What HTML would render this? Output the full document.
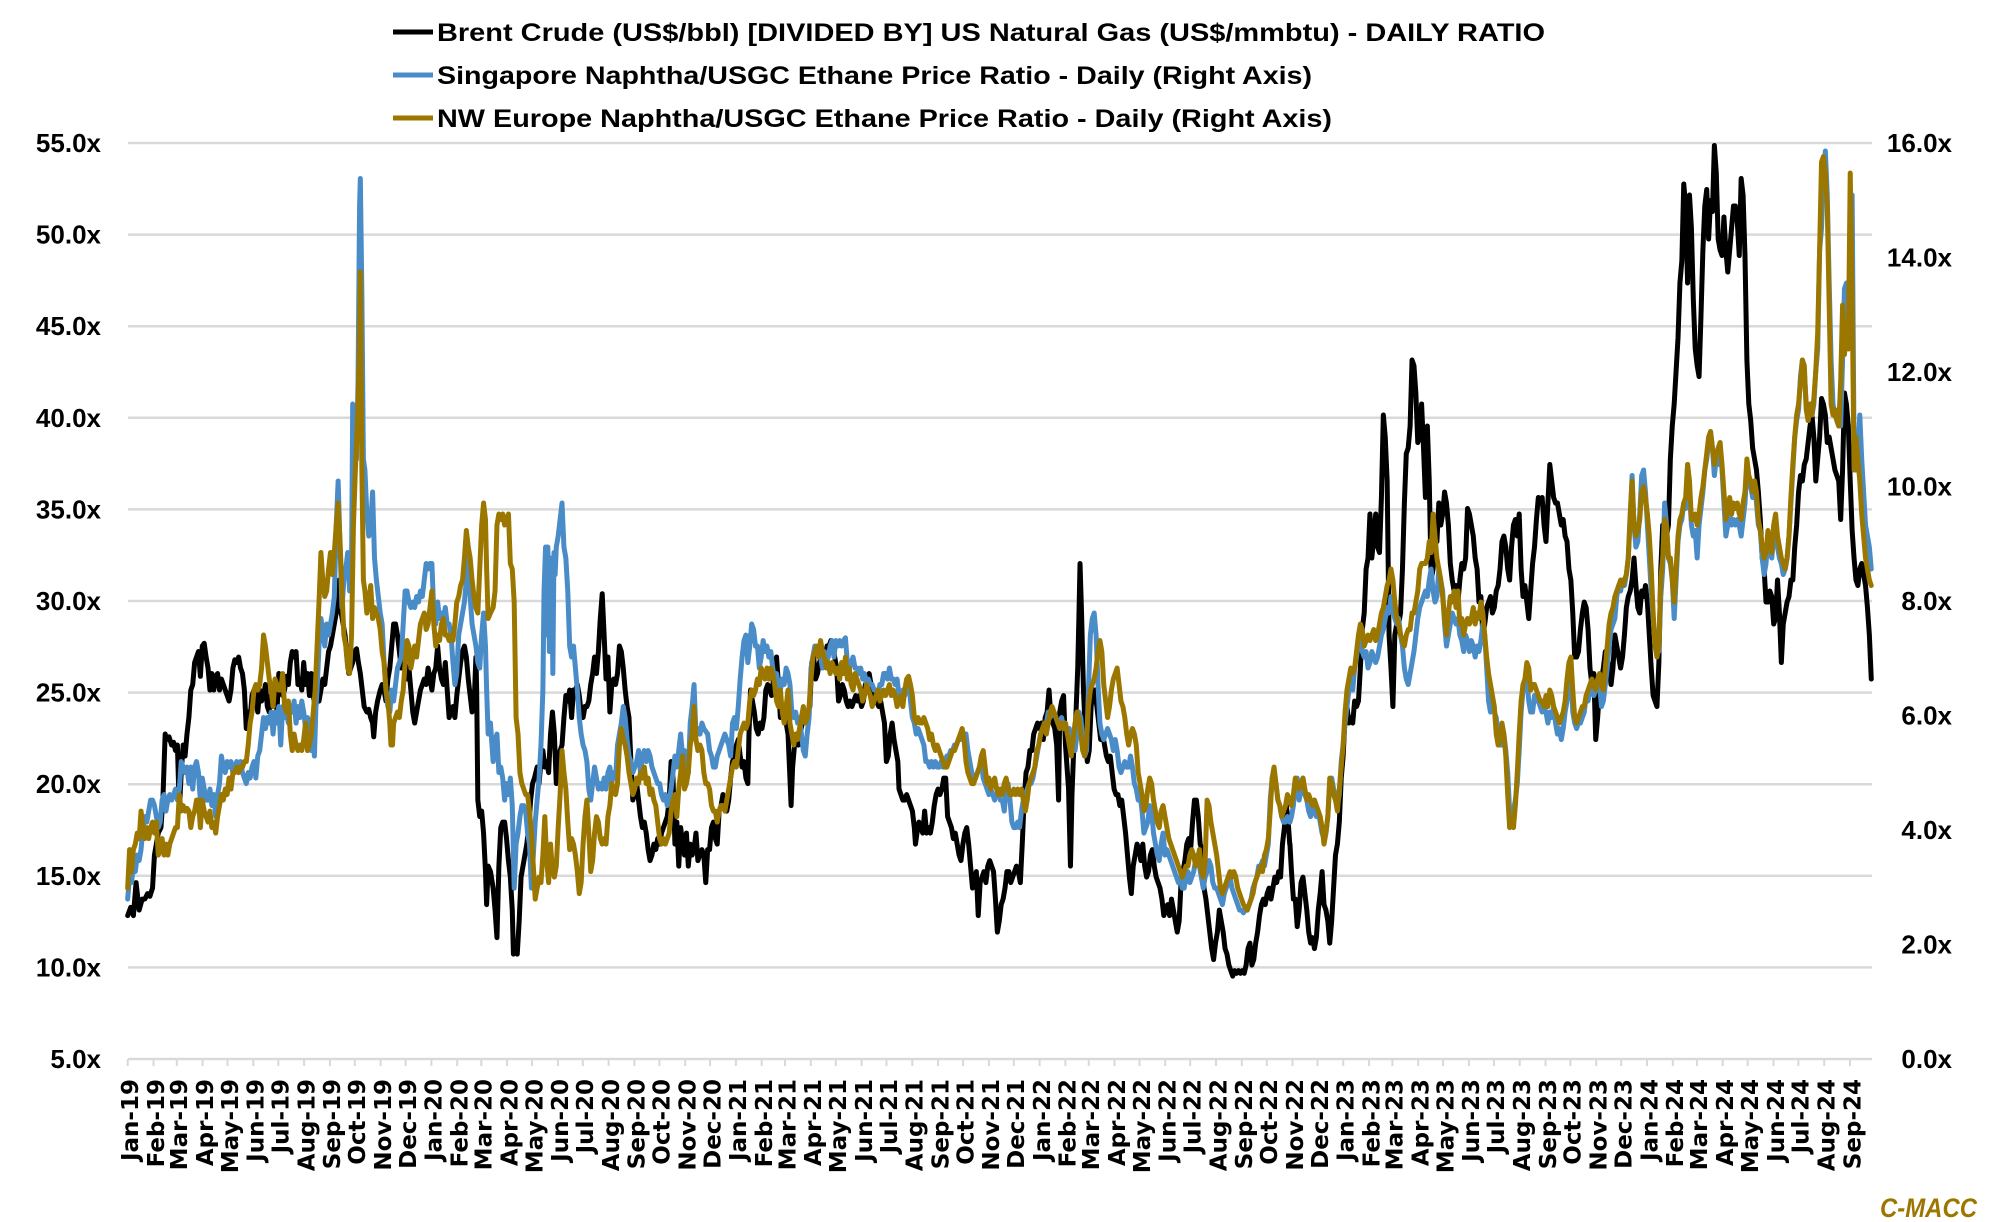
<!DOCTYPE html>
<html>
<head>
<meta charset="utf-8">
<style>
html,body{margin:0;padding:0;background:#fff;}
svg{display:block;}
.yl{font-family:"Liberation Sans",sans-serif;font-weight:bold;font-size:26px;fill:#000;}
.xl{font-family:"DejaVu Sans","Liberation Sans",sans-serif;font-weight:bold;font-size:23px;fill:#000;}
.lg{font-family:"Liberation Sans",sans-serif;font-weight:bold;font-size:25px;fill:#000;}
.s{fill:none;stroke-width:5;stroke-linejoin:round;stroke-linecap:round;}
</style>
</head>
<body>
<svg width="2000" height="1222" viewBox="0 0 2000 1222" xmlns="http://www.w3.org/2000/svg">
<rect x="0" y="0" width="2000" height="1222" fill="#fff"/>
<!-- gridlines -->
<g stroke="#d9d9d9" stroke-width="2.5">
<line x1="128" y1="143" x2="1872" y2="143"/>
<line x1="128" y1="234.6" x2="1872" y2="234.6"/>
<line x1="128" y1="326.2" x2="1872" y2="326.2"/>
<line x1="128" y1="417.8" x2="1872" y2="417.8"/>
<line x1="128" y1="509.4" x2="1872" y2="509.4"/>
<line x1="128" y1="601" x2="1872" y2="601"/>
<line x1="128" y1="692.6" x2="1872" y2="692.6"/>
<line x1="128" y1="784.2" x2="1872" y2="784.2"/>
<line x1="128" y1="875.8" x2="1872" y2="875.8"/>
<line x1="128" y1="967.4" x2="1872" y2="967.4"/>
<line x1="128" y1="1059" x2="1872" y2="1059"/>
</g>
<!-- ticks -->
<g stroke="#d9d9d9" stroke-width="2">
<line x1="127.7" y1="1059" x2="127.7" y2="1066"/><line x1="153.5" y1="1059" x2="153.5" y2="1066"/><line x1="176.8" y1="1059" x2="176.8" y2="1066"/><line x1="202.6" y1="1059" x2="202.6" y2="1066"/><line x1="227.5" y1="1059" x2="227.5" y2="1066"/><line x1="253.3" y1="1059" x2="253.3" y2="1066"/><line x1="278.3" y1="1059" x2="278.3" y2="1066"/><line x1="304.1" y1="1059" x2="304.1" y2="1066"/><line x1="329.9" y1="1059" x2="329.9" y2="1066"/><line x1="354.8" y1="1059" x2="354.8" y2="1066"/><line x1="380.6" y1="1059" x2="380.6" y2="1066"/><line x1="405.6" y1="1059" x2="405.6" y2="1066"/>
<line x1="431.4" y1="1059" x2="431.4" y2="1066"/><line x1="457.2" y1="1059" x2="457.2" y2="1066"/><line x1="481.3" y1="1059" x2="481.3" y2="1066"/><line x1="507.1" y1="1059" x2="507.1" y2="1066"/><line x1="532.1" y1="1059" x2="532.1" y2="1066"/><line x1="557.9" y1="1059" x2="557.9" y2="1066"/><line x1="582.8" y1="1059" x2="582.8" y2="1066"/><line x1="608.6" y1="1059" x2="608.6" y2="1066"/><line x1="634.4" y1="1059" x2="634.4" y2="1066"/><line x1="659.4" y1="1059" x2="659.4" y2="1066"/><line x1="685.2" y1="1059" x2="685.2" y2="1066"/><line x1="710.1" y1="1059" x2="710.1" y2="1066"/>
<line x1="735.9" y1="1059" x2="735.9" y2="1066"/><line x1="761.7" y1="1059" x2="761.7" y2="1066"/><line x1="785" y1="1059" x2="785" y2="1066"/><line x1="810.8" y1="1059" x2="810.8" y2="1066"/><line x1="835.8" y1="1059" x2="835.8" y2="1066"/><line x1="861.6" y1="1059" x2="861.6" y2="1066"/><line x1="886.5" y1="1059" x2="886.5" y2="1066"/><line x1="912.3" y1="1059" x2="912.3" y2="1066"/><line x1="938.1" y1="1059" x2="938.1" y2="1066"/><line x1="963.1" y1="1059" x2="963.1" y2="1066"/><line x1="988.9" y1="1059" x2="988.9" y2="1066"/><line x1="1013.8" y1="1059" x2="1013.8" y2="1066"/>
<line x1="1039.6" y1="1059" x2="1039.6" y2="1066"/><line x1="1065.4" y1="1059" x2="1065.4" y2="1066"/><line x1="1088.7" y1="1059" x2="1088.7" y2="1066"/><line x1="1114.5" y1="1059" x2="1114.5" y2="1066"/><line x1="1139.5" y1="1059" x2="1139.5" y2="1066"/><line x1="1165.2" y1="1059" x2="1165.2" y2="1066"/><line x1="1190.2" y1="1059" x2="1190.2" y2="1066"/><line x1="1216" y1="1059" x2="1216" y2="1066"/><line x1="1241.8" y1="1059" x2="1241.8" y2="1066"/><line x1="1266.8" y1="1059" x2="1266.8" y2="1066"/><line x1="1292.5" y1="1059" x2="1292.5" y2="1066"/><line x1="1317.5" y1="1059" x2="1317.5" y2="1066"/>
<line x1="1343.3" y1="1059" x2="1343.3" y2="1066"/><line x1="1369.1" y1="1059" x2="1369.1" y2="1066"/><line x1="1392.4" y1="1059" x2="1392.4" y2="1066"/><line x1="1418.2" y1="1059" x2="1418.2" y2="1066"/><line x1="1443.1" y1="1059" x2="1443.1" y2="1066"/><line x1="1468.9" y1="1059" x2="1468.9" y2="1066"/><line x1="1493.9" y1="1059" x2="1493.9" y2="1066"/><line x1="1519.7" y1="1059" x2="1519.7" y2="1066"/><line x1="1545.5" y1="1059" x2="1545.5" y2="1066"/><line x1="1570.4" y1="1059" x2="1570.4" y2="1066"/><line x1="1596.2" y1="1059" x2="1596.2" y2="1066"/><line x1="1621.2" y1="1059" x2="1621.2" y2="1066"/>
<line x1="1647" y1="1059" x2="1647" y2="1066"/><line x1="1672.8" y1="1059" x2="1672.8" y2="1066"/><line x1="1696.9" y1="1059" x2="1696.9" y2="1066"/><line x1="1722.7" y1="1059" x2="1722.7" y2="1066"/><line x1="1747.7" y1="1059" x2="1747.7" y2="1066"/><line x1="1773.5" y1="1059" x2="1773.5" y2="1066"/><line x1="1798.4" y1="1059" x2="1798.4" y2="1066"/><line x1="1824.2" y1="1059" x2="1824.2" y2="1066"/><line x1="1850" y1="1059" x2="1850" y2="1066"/>
</g>

<!-- left axis labels -->
<g class="yl" text-anchor="end">
<text x="101" y="152">55.0x</text>
<text x="101" y="243.6">50.0x</text>
<text x="101" y="335.2">45.0x</text>
<text x="101" y="426.8">40.0x</text>
<text x="101" y="518.4">35.0x</text>
<text x="101" y="610">30.0x</text>
<text x="101" y="701.6">25.0x</text>
<text x="101" y="793.2">20.0x</text>
<text x="101" y="884.8">15.0x</text>
<text x="101" y="976.4">10.0x</text>
<text x="101" y="1068">5.0x</text>
</g>
<!-- right axis labels -->
<g class="yl" text-anchor="end">
<text x="1952" y="152">16.0x</text>
<text x="1952" y="266.5">14.0x</text>
<text x="1952" y="381">12.0x</text>
<text x="1952" y="495.5">10.0x</text>
<text x="1952" y="610">8.0x</text>
<text x="1952" y="724.5">6.0x</text>
<text x="1952" y="839">4.0x</text>
<text x="1952" y="953.5">2.0x</text>
<text x="1952" y="1068">0.0x</text>
</g>

<!-- x labels -->
<g class="xl" text-anchor="end">
<text transform="translate(138,1079) rotate(-90)">Jan-19</text>
<text transform="translate(163.8,1079) rotate(-90)">Feb-19</text>
<text transform="translate(187.1,1079) rotate(-90)">Mar-19</text>
<text transform="translate(212.9,1079) rotate(-90)">Apr-19</text>
<text transform="translate(237.8,1079) rotate(-90)">May-19</text>
<text transform="translate(263.6,1079) rotate(-90)">Jun-19</text>
<text transform="translate(288.6,1079) rotate(-90)">Jul-19</text>
<text transform="translate(314.4,1079) rotate(-90)">Aug-19</text>
<text transform="translate(340.2,1079) rotate(-90)">Sep-19</text>
<text transform="translate(365.1,1079) rotate(-90)">Oct-19</text>
<text transform="translate(390.9,1079) rotate(-90)">Nov-19</text>
<text transform="translate(415.9,1079) rotate(-90)">Dec-19</text>
<text transform="translate(441.7,1079) rotate(-90)">Jan-20</text>
<text transform="translate(467.5,1079) rotate(-90)">Feb-20</text>
<text transform="translate(491.6,1079) rotate(-90)">Mar-20</text>
<text transform="translate(517.4,1079) rotate(-90)">Apr-20</text>
<text transform="translate(542.4,1079) rotate(-90)">May-20</text>
<text transform="translate(568.2,1079) rotate(-90)">Jun-20</text>
<text transform="translate(593.1,1079) rotate(-90)">Jul-20</text>
<text transform="translate(618.9,1079) rotate(-90)">Aug-20</text>
<text transform="translate(644.7,1079) rotate(-90)">Sep-20</text>
<text transform="translate(669.7,1079) rotate(-90)">Oct-20</text>
<text transform="translate(695.5,1079) rotate(-90)">Nov-20</text>
<text transform="translate(720.4,1079) rotate(-90)">Dec-20</text>
<text transform="translate(746.2,1079) rotate(-90)">Jan-21</text>
<text transform="translate(772,1079) rotate(-90)">Feb-21</text>
<text transform="translate(795.3,1079) rotate(-90)">Mar-21</text>
<text transform="translate(821.1,1079) rotate(-90)">Apr-21</text>
<text transform="translate(846.1,1079) rotate(-90)">May-21</text>
<text transform="translate(871.9,1079) rotate(-90)">Jun-21</text>
<text transform="translate(896.8,1079) rotate(-90)">Jul-21</text>
<text transform="translate(922.6,1079) rotate(-90)">Aug-21</text>
<text transform="translate(948.4,1079) rotate(-90)">Sep-21</text>
<text transform="translate(973.4,1079) rotate(-90)">Oct-21</text>
<text transform="translate(999.2,1079) rotate(-90)">Nov-21</text>
<text transform="translate(1024.1,1079) rotate(-90)">Dec-21</text>
<text transform="translate(1049.9,1079) rotate(-90)">Jan-22</text>
<text transform="translate(1075.7,1079) rotate(-90)">Feb-22</text>
<text transform="translate(1099,1079) rotate(-90)">Mar-22</text>
<text transform="translate(1124.8,1079) rotate(-90)">Apr-22</text>
<text transform="translate(1149.8,1079) rotate(-90)">May-22</text>
<text transform="translate(1175.5,1079) rotate(-90)">Jun-22</text>
<text transform="translate(1200.5,1079) rotate(-90)">Jul-22</text>
<text transform="translate(1226.3,1079) rotate(-90)">Aug-22</text>
<text transform="translate(1252.1,1079) rotate(-90)">Sep-22</text>
<text transform="translate(1277.1,1079) rotate(-90)">Oct-22</text>
<text transform="translate(1302.8,1079) rotate(-90)">Nov-22</text>
<text transform="translate(1327.8,1079) rotate(-90)">Dec-22</text>
<text transform="translate(1353.6,1079) rotate(-90)">Jan-23</text>
<text transform="translate(1379.4,1079) rotate(-90)">Feb-23</text>
<text transform="translate(1402.7,1079) rotate(-90)">Mar-23</text>
<text transform="translate(1428.5,1079) rotate(-90)">Apr-23</text>
<text transform="translate(1453.4,1079) rotate(-90)">May-23</text>
<text transform="translate(1479.2,1079) rotate(-90)">Jun-23</text>
<text transform="translate(1504.2,1079) rotate(-90)">Jul-23</text>
<text transform="translate(1530,1079) rotate(-90)">Aug-23</text>
<text transform="translate(1555.8,1079) rotate(-90)">Sep-23</text>
<text transform="translate(1580.7,1079) rotate(-90)">Oct-23</text>
<text transform="translate(1606.5,1079) rotate(-90)">Nov-23</text>
<text transform="translate(1631.5,1079) rotate(-90)">Dec-23</text>
<text transform="translate(1657.3,1079) rotate(-90)">Jan-24</text>
<text transform="translate(1683.1,1079) rotate(-90)">Feb-24</text>
<text transform="translate(1707.2,1079) rotate(-90)">Mar-24</text>
<text transform="translate(1733,1079) rotate(-90)">Apr-24</text>
<text transform="translate(1758,1079) rotate(-90)">May-24</text>
<text transform="translate(1783.8,1079) rotate(-90)">Jun-24</text>
<text transform="translate(1808.7,1079) rotate(-90)">Jul-24</text>
<text transform="translate(1834.5,1079) rotate(-90)">Aug-24</text>
<text transform="translate(1860.3,1079) rotate(-90)">Sep-24</text>
</g>

<!-- BLACK series -->
<g class="s" stroke="#000">
<polyline vector-effect="non-scaling-stroke" transform="translate(120 140) scale(0.382702 0.550055)" points="20,1410 28,1395 35,1410 42,1350 50,1400 58,1380 65,1380 72,1370 78,1375 85,1360 90,1300 95,1280 100,1260 107,1250 112,1200 118,1080 122,1090 128,1085 135,1100 140,1095 145,1110 150,1100 155,1220 160,1150 165,1100 170,1120 175,1080 180,1050 185,1000 190,990 195,950 200,940 205,930 210,975 215,920 220,915 225,940 230,960 235,1000 240,970 245,1000 250,975 255,970 260,1000 265,980 270,990 275,1000 280,1010 285,1020 290,1000 295,960 300,945 305,950 310,940 315,960 320,970 325,1000 330,1070 335,1040 340,1050 345,1010 350,1000 355,1020 360,1040 365,1000 370,1020 375,1010 380,990 385,1030 390,1040 395,1010 400,1030 405,1000 410,1040 415,970 420,980 425,1010 430,1000 435,975 440,990 445,950 450,930 455,940 460,930 465,990 470,980 475,1000 480,950 485,990 490,970 495,1010 500,970 505,1010 510,1030 515,1020 520,1020 525,1000 530,980 535,990 540,960 545,930 550,920 555,900 560,880 565,860 570,840 573,800 578,860 583,880 588,900 593,940 598,970 603,960 608,950 613,930 618,925 623,950 628,970 633,1000 638,1030 645,1040 650,1035 655,1050 660,1060 663,1085 668,1040 673,1020 680,1000 685,990 690,1000 695,1020 700,980 705,960 710,920 715,880 720,880 725,900 730,930 735,960 740,930 745,950 750,980 755,960 760,1000 765,1040 770,1060 775,1040 780,1020 785,1000 790,990 795,980 800,990 805,960 810,980 815,1000 820,970 825,960 830,920 835,960 840,980 845,990 850,950 855,1000 860,1050 865,1040 870,1030 875,1050 880,1010 885,980 890,950 895,930 900,920 905,940 910,980 915,1010 920,1040 925,1030 930,940 932,1000 935,1200 940,1230 945,1220 950,1260 955,1330 958,1390 962,1320 968,1330 975,1360 980,1400 985,1450 990,1320 995,1250 1000,1240 1005,1240 1010,1270 1015,1310 1020,1340 1025,1400 1028,1480 1033,1470 1038,1480 1043,1420 1048,1340 1053,1320 1058,1300 1063,1280 1068,1250 1073,1200 1078,1170 1083,1160 1090,1140 1095,1170 1100,1130 1105,1110 1110,1140 1115,1130 1120,1150 1125,1080 1130,1040 1135,1080 1140,1170 1145,1120 1150,1110 1155,1100 1160,1050 1165,1010 1170,1020 1175,1000 1180,1050 1185,1000 1190,1000 1195,990 1200,1010 1205,1040 1210,1050 1215,1030 1220,1030 1225,1020 1230,990 1235,970 1240,940 1245,970 1250,930 1255,870 1260,825 1265,900 1270,980 1275,940 1280,1040 1285,990 1290,980 1295,990 1300,970 1305,920 1310,930 1315,960 1320,1000 1325,1030 1330,1050 1335,1130 1340,1200 1345,1190 1350,1170 1355,1200 1360,1230 1365,1250 1370,1240 1375,1260 1380,1290 1385,1310 1390,1300 1395,1280 1400,1290 1405,1270 1410,1280 1415,1260 1420,1250 1425,1240 1430,1230 1435,1200 1440,1130 1445,1160 1450,1280 1455,1240 1460,1320 1465,1250 1470,1280 1475,1300 1480,1260 1485,1320 1490,1280 1495,1300 1500,1290 1505,1260 1510,1310 1515,1300"/>
<polyline vector-effect="non-scaling-stroke" transform="translate(700 140) scale(0.382702 0.550055)" points="0,1300 5,1290 10,1300 15,1350 20,1290 25,1290 30,1250 35,1240 40,1270 45,1280 50,1220 55,1210 60,1190 65,1210 70,1220 75,1200 80,1160 85,1130 90,1120 95,1100 100,1090 105,1120 110,1140 115,1130 120,1160 125,1170 128,1080 132,1000 137,1020 142,1040 147,1070 152,1080 157,1060 162,1070 167,1050 172,1000 177,990 182,1000 187,1010 192,980 197,970 200,940 205,990 210,1050 215,1030 220,1040 225,1060 230,1080 235,1160 238,1210 242,1140 247,1100 252,1080 257,1100 262,1080 267,1060 272,1040 277,1060 282,1040 287,1030 292,950 297,940 302,980 307,970 312,950 317,940 322,930 327,940 332,920 337,920 342,910 347,920 352,940 357,960 362,1020 367,1010 372,990 377,1000 382,1020 387,1030 392,1020 397,1030 402,1020 407,1010 412,1020 417,1010 422,1030 427,1020 432,990 437,980 442,970 447,990 452,1000 457,1010 462,1020 467,1030 472,1020 477,1040 482,1060 487,1130 492,1120 497,1080 502,1060 507,1090 512,1110 517,1130 520,1180 525,1190 530,1200 535,1200 540,1190 545,1200 550,1210 555,1220 560,1250 563,1280 567,1260 572,1240 577,1250 582,1260 587,1220 592,1260 597,1250 602,1260 607,1240 612,1210 617,1190 622,1180 627,1190 632,1180 637,1160 642,1160 647,1230 652,1240 657,1250 662,1270 667,1260 672,1280 677,1300 682,1310 687,1280 692,1260 697,1250 702,1280 707,1320 712,1360 717,1350 722,1330 727,1410 732,1350 737,1340 742,1330 747,1350 752,1320 757,1310 762,1320 767,1330 772,1380 777,1440 782,1420 787,1390 792,1380 797,1360 802,1330 807,1330 812,1350 817,1340 822,1330 827,1320 832,1330 837,1350 842,1280 847,1200 852,1150 857,1140 862,1110 867,1110 872,1080 877,1070 882,1060 887,1070 892,1060 897,1090 902,1050 907,1040 912,1000 917,1050 922,1060 927,1070 932,1100 937,1200 940,1040 945,1020 950,1010 955,1100 960,1150 963,1180 968,1320 972,1190 977,1100 982,1050 987,960 990,870 993,770 997,860 1002,1000 1007,1080 1012,1130 1017,1110 1022,1030 1027,1000 1032,1000 1037,1030 1042,1060 1047,1090 1052,1080 1057,1100 1062,1120 1067,1130 1072,1120 1077,1150 1082,1180 1087,1190 1092,1190 1097,1210 1102,1200 1107,1230 1112,1260 1117,1300 1122,1340 1127,1370 1132,1320 1137,1300 1142,1280 1147,1290 1152,1310 1157,1280 1162,1320 1167,1340 1172,1330 1177,1300 1182,1290 1187,1320 1192,1340 1197,1350 1202,1360 1207,1380 1212,1410 1217,1400 1222,1390 1227,1410 1232,1380 1237,1400 1242,1420 1247,1440 1252,1420 1257,1350 1262,1330 1267,1310 1272,1280 1277,1270 1282,1290 1287,1240 1292,1200 1297,1200 1302,1230 1307,1280 1312,1290 1317,1360 1322,1380 1327,1410 1332,1440 1337,1470 1342,1490 1347,1460 1352,1440 1357,1400 1362,1420 1367,1440 1372,1470 1377,1480 1382,1500 1387,1510 1392,1520 1397,1510 1402,1515 1407,1510 1412,1515 1417,1510 1422,1515 1427,1500 1432,1470 1437,1460 1442,1500 1447,1490 1452,1460 1457,1440 1462,1410 1467,1390 1472,1380 1477,1390 1482,1370 1487,1360 1492,1380 1497,1360 1502,1340 1507,1350 1512,1330 1517,1340 1522,1280 1527,1250 1532,1210 1537,1240 1541,1280"/>
<polyline vector-effect="non-scaling-stroke" transform="translate(1280 140) scale(0.382702 0.550055)" points="26,1280 30,1330 35,1380 40,1380 45,1430 50,1400 55,1350 60,1340 65,1370 70,1400 75,1440 80,1460 85,1450 90,1470 95,1450 100,1400 105,1370 110,1330 115,1390 120,1400 125,1420 130,1460 135,1420 140,1360 145,1300 150,1280 155,1240 160,1160 165,1120 170,1050 175,1030 180,1060 185,1050 190,1060 195,1020 200,1030 205,1020 210,960 215,890 220,860 225,780 230,760 235,680 240,760 245,720 250,680 255,740 260,750 265,650 270,500 275,540 280,620 285,900 290,960 295,1030 300,900 305,880 310,880 315,860 320,780 325,660 330,570 335,560 340,520 345,400 350,410 355,460 360,550 365,540 370,480 375,560 380,650 385,520 390,620 395,800 400,780 405,720 410,730 415,660 420,700 425,680 430,640 435,660 440,700 445,770 450,800 455,820 460,810 465,840 470,800 475,770 480,780 485,760 490,670 495,680 500,700 505,720 510,760 515,780 520,840 525,830 530,900 535,880 540,850 545,840 550,830 555,860 560,850 565,820 570,810 575,780 580,730 585,720 590,740 595,780 600,800 605,740 610,700 615,690 620,720 625,680 630,780 635,830 640,810 645,840 650,870 655,820 660,770 665,740 670,690 675,650 680,660 685,650 690,700 695,730 700,660 705,590 710,620 715,650 720,660 725,660 730,680 735,700 740,690 745,720 750,730 755,780 760,800 765,860 770,940 775,940 780,930 785,890 790,860 795,840 800,850 805,890 810,960 815,990 820,970 825,1090 830,1050 835,1000 840,980 845,960 850,930 855,940 860,960 865,990 870,960 875,900 880,920 885,940 890,960 895,940 900,900 905,850 910,830 915,820 920,800 925,760 930,810 935,850 940,860 945,820 950,830 955,810 960,840 965,900 970,960 975,1010 980,1020 985,1030 990,950 995,780 1000,700 1005,750 1010,720 1015,700 1020,580 1025,520 1030,480 1035,420 1040,360 1045,260 1050,220 1055,80 1060,120 1065,260 1070,100 1075,160 1080,290 1085,380 1090,410 1095,430 1100,320 1105,200 1110,120 1115,90 1120,180 1125,110 1130,130 1135,10 1140,60 1145,180 1150,200 1155,210 1160,140 1165,200 1170,240 1175,200 1180,160 1185,120 1190,120 1195,150 1200,210 1205,70 1210,100 1215,210 1220,400 1225,480 1230,510 1235,560 1240,580 1245,600 1250,640 1255,690 1260,760 1265,780 1270,840 1275,840 1280,820 1285,830 1290,880 1295,870 1300,800 1305,860 1310,950 1315,880 1320,860 1325,840 1330,830 1335,800 1340,800 1345,740 1350,700 1355,640 1360,610 1365,620 1370,590 1375,580 1380,550 1385,520 1390,500 1395,540 1400,620 1405,580 1410,540 1415,470 1420,480 1425,500 1430,550 1435,540 1440,560 1445,580 1450,600 1455,610 1460,620 1465,690 1470,600 1475,460 1480,480 1485,520 1490,620 1495,710 1500,760 1505,800 1510,810 1515,780 1520,770 1525,790 1530,810 1535,850 1540,900 1545,980"/>
</g>

<!-- BLUE series -->
<g class="s" stroke="#4a8cc8">
<polyline vector-effect="non-scaling-stroke" transform="translate(120 140) scale(0.382702 0.550055)" points="20,1380 25,1340 30,1350 35,1320 40,1330 45,1300 50,1310 55,1290 60,1250 65,1230 70,1240 75,1220 80,1200 85,1200 90,1210 95,1230 100,1250 105,1240 110,1200 115,1190 120,1220 125,1200 130,1190 135,1200 140,1190 145,1180 150,1200 155,1180 160,1130 165,1140 170,1150 175,1140 180,1170 185,1140 190,1180 195,1140 200,1130 205,1150 210,1200 215,1160 220,1180 225,1200 230,1200 235,1180 240,1210 245,1190 250,1230 255,1190 260,1170 265,1120 270,1140 275,1150 280,1130 285,1140 290,1130 295,1150 300,1140 305,1130 310,1140 315,1130 320,1150 325,1160 330,1170 335,1150 340,1160 345,1140 350,1130 355,1160 360,1120 365,1110 370,1080 375,1050 380,1070 385,1050 390,1060 395,1040 400,1080 405,1040 410,1060 415,1030 420,1100 425,1030 430,1050 435,1040 440,1060 445,1030 450,1040 455,1020 460,1060 465,1030 470,1050 475,1020 480,1040 485,1070 490,1050 495,1060 500,1110 505,1090 508,1120 512,1030 515,1000 520,920 525,870 530,890 535,920 540,880 545,900 550,880 555,860 560,830 565,700 570,620 575,740 580,850 585,800 590,780 595,750 600,820 605,780 608,480 612,550 618,580 622,440 626,120 628,70 632,280 636,580 640,600 645,680 650,720 655,700 660,640 665,760 670,800 675,830 680,860 685,880 690,950 695,1000 700,1030 705,1040 710,1000 715,1020 720,990 725,960 730,950 735,940 740,880 745,820 750,820 755,840 760,850 765,840 770,850 775,830 780,840 785,820 790,830 795,800 800,770 805,780 810,770 815,770 820,860 825,880 830,840 835,870 840,860 845,870 850,850 855,880 860,880 865,900 870,950 875,990 880,970 885,900 890,880 895,860 900,840 905,800 908,760 912,780 915,830 920,880 925,900 930,920 935,950 940,960 945,900 950,860 955,920 958,1000 962,1080 968,1060 975,1130 980,1090 985,1080 990,1150 995,1140 1000,1160 1005,1200 1010,1170 1015,1190 1020,1160 1025,1210 1030,1360 1035,1280 1040,1260 1045,1230 1050,1210 1055,1210 1060,1220 1065,1260 1070,1280 1075,1360 1080,1300 1085,1240 1090,1200 1095,1160 1100,1100 1105,1000 1108,820 1112,740 1115,900 1118,740 1122,930 1125,790 1128,760 1131,970 1134,750 1137,790 1140,740 1145,720 1150,690 1155,660 1160,740 1165,760 1170,820 1175,920 1180,940 1185,920 1190,960 1195,1000 1200,1050 1205,1080 1210,1100 1215,1110 1220,1130 1225,1180 1230,1200 1235,1170 1240,1140 1245,1160 1250,1180 1255,1170 1260,1180 1265,1160 1270,1180 1275,1150 1280,1140 1285,1170 1290,1150 1295,1160 1300,1100 1305,1080 1310,1060 1315,1030 1320,1050 1325,1090 1330,1120 1335,1130 1340,1150 1345,1140 1350,1130 1355,1110 1360,1150 1365,1120 1370,1110 1375,1130 1380,1110 1385,1120 1390,1140 1395,1150 1400,1160 1405,1170 1410,1170 1415,1190 1420,1200 1425,1190 1430,1210 1435,1200 1440,1180 1445,1150 1450,1120 1455,1140 1460,1110 1465,1080 1470,1120 1475,1110 1480,1120 1485,1150 1490,1060 1495,1030 1500,990 1505,1080 1510,1070 1515,1080"/>
<polyline vector-effect="non-scaling-stroke" transform="translate(700 140) scale(0.382702 0.550055)" points="0,1080 5,1060 10,1070 15,1075 20,1080 25,1110 30,1120 35,1140 40,1140 45,1120 50,1110 55,1100 60,1090 65,1080 70,1090 75,1100 80,1120 85,1060 90,1050 95,1070 100,1030 105,980 110,940 115,910 120,900 125,950 130,920 135,880 140,890 145,920 150,920 155,960 160,940 165,910 170,930 175,920 180,940 185,930 190,960 195,980 200,970 205,990 210,1000 215,980 220,990 225,960 230,970 235,990 240,1040 245,1050 250,1040 255,1060 260,1050 265,1080 270,1110 275,1120 280,1080 285,1050 290,960 295,940 300,920 305,930 310,920 315,940 320,960 325,930 330,950 335,940 340,920 345,910 350,940 355,910 360,920 365,910 370,920 375,910 380,905 385,950 390,960 395,950 400,940 405,960 410,960 415,970 420,960 425,980 430,970 435,990 440,980 445,990 450,990 455,1000 460,1000 465,1010 470,990 475,990 480,970 485,970 490,980 495,960 500,980 505,980 510,990 515,980 520,1010 525,1020 530,1000 535,1010 540,990 545,980 550,1020 555,1050 560,1060 565,1080 570,1070 575,1080 580,1090 585,1100 590,1130 595,1130 600,1140 605,1130 610,1140 615,1130 620,1140 625,1140 630,1130 635,1140 640,1130 645,1120 650,1120 655,1110 660,1110 665,1100 670,1100 675,1090 680,1090 685,1080 690,1080 695,1080 700,1110 705,1130 710,1150 715,1160 720,1160 725,1150 730,1140 735,1130 740,1160 745,1170 750,1180 755,1190 760,1180 765,1190 770,1200 775,1190 780,1180 785,1200 790,1200 795,1220 800,1180 805,1170 810,1200 815,1240 820,1250 825,1250 830,1240 835,1250 840,1220 845,1200 850,1190 855,1180 860,1170 865,1170 870,1160 875,1140 880,1120 885,1100 890,1080 895,1070 900,1070 905,1060 910,1040 915,1050 920,1040 925,1040 930,1050 935,1060 940,1060 945,1050 950,1070 955,1060 960,1080 965,1070 970,1110 975,1100 980,1110 985,1080 990,1040 995,1050 1000,1090 1005,1120 1010,1110 1015,1000 1020,900 1025,870 1030,860 1035,900 1040,990 1045,1060 1050,1080 1055,1090 1060,1080 1065,1070 1070,1080 1075,1090 1080,1110 1085,1090 1090,1110 1095,1140 1100,1150 1105,1140 1110,1130 1115,1140 1120,1140 1125,1120 1130,1140 1135,1170 1140,1180 1145,1200 1150,1190 1155,1220 1160,1260 1165,1250 1170,1240 1175,1210 1180,1220 1185,1260 1190,1280 1195,1300 1200,1310 1205,1280 1210,1260 1215,1300 1220,1290 1225,1300 1230,1310 1235,1320 1240,1330 1245,1340 1250,1350 1255,1340 1260,1360 1265,1360 1270,1340 1275,1330 1280,1350 1285,1340 1290,1330 1295,1310 1300,1300 1305,1320 1310,1340 1315,1360 1320,1340 1325,1330 1330,1310 1335,1320 1340,1350 1345,1360 1350,1360 1355,1370 1360,1380 1365,1390 1370,1370 1375,1360 1380,1350 1385,1340 1390,1360 1395,1370 1400,1380 1405,1390 1410,1400 1415,1400 1420,1405 1425,1400 1430,1400 1435,1390 1440,1380 1445,1360 1450,1350 1455,1340 1460,1320 1465,1320 1470,1310 1475,1320 1480,1300 1485,1280 1490,1200 1495,1160 1500,1150 1505,1170 1510,1200 1515,1210 1520,1230 1525,1240 1530,1240 1535,1230 1541,1240"/>
<polyline vector-effect="non-scaling-stroke" transform="translate(1280 140) scale(0.382702 0.550055)" points="26,1240 30,1230 35,1210 40,1170 45,1160 50,1200 55,1180 60,1160 65,1190 70,1200 75,1220 80,1230 85,1220 90,1200 95,1230 100,1220 105,1240 110,1260 115,1270 120,1260 125,1230 130,1170 135,1160 140,1180 145,1190 150,1210 155,1190 160,1130 165,1100 170,1060 175,1030 180,1000 185,980 190,1000 195,960 200,940 205,910 210,900 215,930 220,940 225,930 230,960 235,950 240,930 245,940 250,950 255,940 260,920 265,900 270,890 275,870 280,850 285,860 290,830 295,850 300,870 305,880 310,870 315,900 320,920 325,960 330,980 335,990 340,970 345,950 350,930 355,900 360,870 365,850 370,840 375,830 380,820 385,830 390,800 395,780 400,820 405,840 410,830 415,780 420,800 425,820 430,880 435,920 440,900 445,880 450,860 455,870 460,880 465,870 470,900 475,910 480,930 485,900 490,910 495,930 500,910 505,920 510,940 515,920 520,930 525,910 530,880 535,900 540,960 545,1020 550,1040 555,1030 560,1040 565,1050 570,1080 575,1100 580,1100 585,1080 590,1110 595,1150 600,1220 605,1240 610,1220 615,1200 620,1170 625,1110 630,1040 635,1000 640,990 645,980 650,1020 655,1040 660,1040 665,1010 670,1020 675,1020 680,1030 685,1040 690,1030 695,1040 700,1060 705,1040 710,1050 715,1030 720,1060 725,1080 730,1070 735,1090 740,1070 745,1040 750,1020 755,990 760,960 765,1040 770,1060 775,1070 780,1060 785,1060 790,1050 795,1040 800,1010 805,1020 810,1000 815,1000 820,1010 825,1000 830,990 835,990 840,1030 845,1020 850,990 855,960 860,920 865,890 870,880 875,870 880,830 885,810 890,820 895,800 900,810 905,790 910,760 915,690 920,610 925,700 930,740 935,730 940,680 945,610 950,600 955,640 960,700 965,760 970,820 975,870 980,900 985,930 990,930 995,830 1000,780 1005,660 1010,700 1015,760 1020,770 1025,800 1030,870 1035,800 1040,730 1045,700 1050,690 1055,660 1060,670 1065,590 1070,640 1075,700 1080,720 1085,710 1090,760 1095,700 1100,670 1105,640 1110,600 1115,580 1120,550 1125,530 1130,560 1135,610 1140,580 1145,590 1150,560 1155,600 1160,660 1165,720 1170,700 1175,680 1180,700 1185,690 1190,700 1195,690 1200,700 1205,720 1210,690 1215,660 1220,600 1225,630 1230,630 1235,650 1240,620 1245,660 1250,700 1255,710 1260,760 1265,790 1270,770 1275,720 1280,750 1285,760 1290,720 1295,700 1300,740 1305,760 1310,770 1315,790 1320,780 1325,760 1330,720 1335,660 1340,600 1345,540 1350,510 1355,490 1360,430 1365,400 1370,420 1375,480 1380,510 1385,480 1390,500 1395,480 1400,420 1405,380 1410,200 1415,160 1420,60 1425,20 1430,100 1435,260 1440,400 1445,480 1450,500 1455,510 1460,520 1465,520 1470,400 1475,270 1480,260 1485,350 1490,200 1495,100 1500,560 1505,600 1510,560 1515,500 1520,580 1525,640 1530,700 1535,720 1540,740 1545,780"/>
</g>

<!-- GOLD series -->
<g class="s" stroke="#9c7700">
<polyline vector-effect="non-scaling-stroke" transform="translate(120 140) scale(0.382702 0.550055)" points="20,1360 25,1290 30,1330 35,1290 40,1280 45,1260 50,1270 55,1220 60,1250 65,1270 70,1250 75,1270 80,1250 85,1240 90,1260 95,1240 100,1300 105,1290 110,1270 115,1300 120,1280 125,1300 130,1280 135,1270 140,1260 145,1250 150,1250 155,1190 160,1220 165,1210 170,1220 175,1215 180,1220 185,1250 190,1230 195,1220 200,1200 205,1200 210,1250 215,1200 220,1220 225,1230 230,1240 235,1220 240,1250 245,1240 250,1260 255,1230 260,1210 265,1190 270,1200 275,1180 280,1190 285,1160 290,1180 295,1150 300,1150 305,1140 310,1150 315,1140 320,1140 325,1130 330,1130 335,1100 340,1060 345,1040 350,1000 355,990 360,1000 365,990 370,960 375,900 380,920 385,950 390,980 395,1000 400,1030 405,980 410,990 415,1000 420,1000 425,970 430,1030 435,1040 440,1020 445,1080 450,1110 455,1080 460,1100 465,1110 470,1100 475,1110 480,1090 485,1060 490,1110 495,1100 500,1080 505,1040 510,1000 515,920 520,840 525,750 530,800 535,830 540,820 545,780 550,750 555,790 560,750 565,700 570,660 575,730 580,820 585,900 590,920 595,960 600,970 605,900 610,700 615,600 620,520 625,400 628,240 632,600 636,800 640,820 645,860 650,840 655,810 660,870 665,850 670,860 675,870 680,890 685,930 690,950 695,1000 700,1020 705,1060 708,1100 712,1100 715,1060 720,1050 725,1040 730,1050 735,1020 740,1000 745,950 750,910 755,920 760,960 765,940 770,920 775,940 780,910 785,880 790,870 795,860 800,890 805,880 810,850 815,820 820,880 825,920 830,900 835,910 840,880 845,870 850,900 855,900 860,910 865,900 870,910 875,880 880,840 885,830 890,810 895,800 900,760 905,710 910,740 915,760 920,800 925,830 930,850 935,860 940,780 945,700 950,660 955,690 958,780 962,870 968,860 975,850 980,820 985,700 990,680 995,690 1000,680 1005,700 1010,690 1015,680 1020,770 1025,780 1030,840 1035,1050 1040,1080 1045,1150 1050,1170 1055,1180 1060,1190 1065,1190 1070,1220 1075,1260 1080,1320 1085,1380 1090,1360 1095,1340 1100,1350 1105,1300 1110,1230 1115,1310 1120,1350 1125,1280 1130,1330 1135,1340 1140,1320 1145,1250 1150,1190 1155,1110 1160,1150 1165,1180 1170,1240 1175,1290 1180,1270 1185,1280 1190,1300 1195,1330 1200,1370 1205,1350 1210,1280 1215,1230 1220,1200 1225,1260 1230,1330 1235,1310 1240,1260 1245,1230 1250,1240 1255,1270 1260,1280 1265,1270 1270,1280 1275,1230 1280,1210 1285,1170 1290,1180 1295,1190 1300,1170 1305,1100 1310,1070 1315,1090 1320,1100 1325,1120 1330,1150 1335,1170 1340,1190 1345,1180 1350,1160 1355,1170 1360,1150 1365,1160 1370,1140 1375,1170 1380,1160 1385,1190 1390,1180 1395,1200 1400,1210 1405,1240 1410,1270 1415,1280 1420,1270 1425,1280 1430,1270 1435,1260 1440,1220 1445,1200 1450,1190 1455,1230 1460,1180 1465,1150 1470,1120 1475,1180 1480,1170 1485,1150 1490,1100 1495,1080 1500,1030 1505,1090 1510,1110 1515,1100"/>
<polyline vector-effect="non-scaling-stroke" transform="translate(700 140) scale(0.382702 0.550055)" points="0,1100 5,1110 10,1150 15,1170 20,1170 25,1180 30,1210 35,1220 40,1220 45,1240 50,1220 55,1210 60,1210 65,1220 70,1200 75,1180 80,1160 85,1140 90,1130 95,1140 100,1110 105,1080 110,1070 115,1060 120,1070 125,1060 130,1020 135,1000 140,1010 145,1000 150,980 155,990 160,960 165,970 170,980 175,960 180,980 185,960 190,970 195,990 200,1020 205,1030 210,1000 215,1040 220,1060 225,1030 230,1000 235,1060 240,1080 245,1100 250,1080 255,1090 260,1070 265,1050 270,1030 275,1060 280,1050 285,1030 290,980 295,940 300,930 305,920 310,940 315,910 320,930 325,940 330,960 335,950 340,970 345,950 350,960 355,970 360,960 365,980 370,950 375,970 380,940 385,980 390,960 395,990 400,1000 405,970 410,980 415,990 420,1000 425,1020 430,1010 435,990 440,1000 445,1010 450,1030 455,1020 460,1010 465,1000 470,1020 475,1010 480,1000 485,1010 490,1000 495,990 500,1010 505,1000 510,1010 515,1030 520,1020 525,1010 530,1030 535,1000 540,980 545,975 550,990 555,1010 560,1050 565,1060 570,1050 575,1060 580,1060 585,1050 590,1060 595,1070 600,1090 605,1080 610,1100 615,1110 620,1100 625,1110 630,1120 635,1130 640,1140 645,1140 650,1130 655,1120 660,1110 665,1110 670,1100 675,1090 680,1080 685,1070 690,1090 695,1130 700,1150 705,1160 710,1170 715,1170 720,1160 725,1150 730,1140 735,1120 740,1110 745,1140 750,1170 755,1160 760,1180 765,1170 770,1160 775,1180 780,1190 785,1180 790,1190 795,1170 800,1160 805,1180 810,1190 815,1190 820,1180 825,1190 830,1180 835,1190 840,1180 845,1200 850,1220 855,1200 860,1170 865,1160 870,1150 875,1140 880,1110 885,1100 890,1080 895,1070 900,1060 905,1080 910,1060 915,1040 920,1030 925,1040 930,1050 935,1060 940,1070 945,1060 950,1070 955,1060 960,1080 965,1100 970,1120 975,1090 980,1060 985,1040 990,1050 995,1080 1000,1110 1005,1120 1010,1090 1015,1030 1020,1000 1025,990 1030,980 1035,960 1040,930 1045,910 1050,930 1055,990 1060,1020 1065,1050 1070,1030 1075,1000 1080,980 1085,970 1090,960 1095,990 1100,1020 1105,1030 1110,1050 1115,1080 1120,1100 1125,1080 1130,1070 1135,1080 1140,1100 1145,1150 1150,1170 1155,1190 1160,1220 1165,1210 1170,1180 1175,1160 1180,1170 1185,1200 1190,1220 1195,1240 1200,1250 1205,1220 1210,1210 1215,1230 1220,1250 1225,1270 1230,1280 1235,1290 1240,1300 1245,1310 1250,1320 1255,1330 1260,1340 1265,1330 1270,1320 1275,1320 1280,1300 1285,1290 1290,1300 1295,1320 1300,1310 1305,1290 1310,1330 1315,1340 1320,1310 1325,1200 1330,1210 1335,1240 1340,1260 1345,1280 1350,1300 1355,1330 1360,1360 1365,1370 1370,1360 1375,1350 1380,1340 1385,1330 1390,1340 1395,1330 1400,1340 1405,1360 1410,1370 1415,1380 1420,1390 1425,1395 1430,1400 1435,1390 1440,1380 1445,1370 1450,1350 1455,1340 1460,1330 1465,1320 1470,1330 1475,1300 1480,1290 1485,1270 1490,1220 1495,1160 1500,1140 1505,1170 1510,1200 1515,1210 1520,1230 1525,1220 1530,1210 1535,1190 1541,1200"/>
<polyline vector-effect="non-scaling-stroke" transform="translate(1280 140) scale(0.382702 0.550055)" points="26,1200 30,1210 35,1190 40,1160 45,1170 50,1180 55,1170 60,1160 65,1180 70,1200 75,1190 80,1200 85,1210 90,1200 95,1210 100,1220 105,1230 110,1250 115,1280 120,1260 125,1230 130,1160 135,1170 140,1190 145,1200 150,1220 155,1180 160,1140 165,1100 170,1040 175,1000 180,980 185,960 190,970 195,960 200,930 205,900 210,880 215,890 220,920 225,910 230,900 235,910 240,900 245,890 250,910 255,900 260,880 265,860 270,850 275,830 280,810 285,800 290,780 295,800 300,840 305,870 310,880 315,900 320,910 325,920 330,900 335,890 340,890 345,860 350,860 355,840 360,820 365,780 370,770 375,770 380,770 385,760 390,730 395,750 400,680 405,720 410,760 415,780 420,800 425,830 430,870 435,900 440,860 445,830 450,840 455,820 460,850 465,820 470,880 475,870 480,900 485,880 490,870 495,880 500,870 505,850 510,880 515,860 520,870 525,840 530,860 535,900 540,940 545,970 550,990 555,1010 560,1030 565,1080 570,1100 575,1090 580,1060 585,1080 590,1120 595,1190 600,1250 605,1230 610,1250 615,1210 620,1150 625,1080 630,1020 635,990 640,980 645,950 650,960 655,1000 660,990 665,990 670,1000 675,1010 680,1020 685,1020 690,1030 695,1010 700,1030 705,1000 710,1010 715,1030 720,1040 725,1050 730,1060 735,1050 740,1040 745,1020 750,980 755,950 760,940 765,1000 770,1050 775,1060 780,1050 785,1040 790,1030 795,1030 800,1010 805,1000 810,990 815,980 820,990 825,1000 830,980 835,970 840,990 845,1000 850,960 855,920 860,880 865,860 870,850 875,830 880,820 885,810 890,800 895,810 900,800 905,790 910,760 915,680 920,620 925,700 930,720 935,710 940,690 945,640 950,630 955,650 960,680 965,720 970,780 975,860 980,920 985,940 990,920 995,800 1000,760 1005,690 1010,700 1015,760 1020,760 1025,800 1030,840 1035,780 1040,720 1045,690 1050,680 1055,660 1060,650 1065,590 1070,620 1075,690 1080,690 1085,680 1090,700 1095,680 1100,650 1105,630 1110,600 1115,570 1120,540 1125,530 1130,560 1135,590 1140,570 1145,560 1150,550 1155,590 1160,640 1165,690 1170,670 1175,650 1180,680 1185,660 1190,670 1195,660 1200,680 1205,690 1210,660 1215,640 1220,580 1225,610 1230,620 1235,640 1240,620 1245,640 1250,690 1255,710 1260,740 1265,760 1270,750 1275,710 1280,730 1285,750 1290,700 1295,680 1300,720 1305,740 1310,760 1315,770 1320,780 1325,760 1330,720 1335,650 1340,590 1345,540 1350,500 1355,480 1360,440 1365,400 1370,410 1375,490 1380,510 1385,480 1390,500 1395,470 1400,420 1405,350 1410,200 1415,40 1420,30 1425,60 1430,120 1435,300 1440,480 1445,500 1450,490 1455,510 1460,520 1465,440 1470,300 1475,390 1480,330 1485,380 1490,60 1495,280 1500,600 1505,540 1510,580 1515,620 1520,680 1525,720 1530,760 1535,780 1540,800 1545,810"/>
</g>

<!-- legend -->
<line x1="393" y1="32" x2="433" y2="32" stroke="#000" stroke-width="5"/>
<line x1="393" y1="75" x2="433" y2="75" stroke="#4a8cc8" stroke-width="5"/>
<line x1="393" y1="118" x2="433" y2="118" stroke="#9c7700" stroke-width="5"/>
<text class="lg" x="437" y="41" textLength="1108" lengthAdjust="spacingAndGlyphs">Brent Crude (US$/bbl) [DIVIDED BY] US Natural Gas (US$/mmbtu) - DAILY RATIO</text>
<text class="lg" x="437" y="84" textLength="875" lengthAdjust="spacingAndGlyphs">Singapore Naphtha/USGC Ethane Price Ratio - Daily (Right Axis)</text>
<text class="lg" x="437" y="127" textLength="895" lengthAdjust="spacingAndGlyphs">NW Europe Naphtha/USGC Ethane Price Ratio - Daily (Right Axis)</text>

<!-- watermark -->
<text x="1880" y="1217" font-family="Liberation Sans, sans-serif" font-weight="bold" font-style="italic" font-size="27" fill="#9c7700" textLength="97" lengthAdjust="spacingAndGlyphs">C-MACC</text>
</svg>
</body>
</html>
